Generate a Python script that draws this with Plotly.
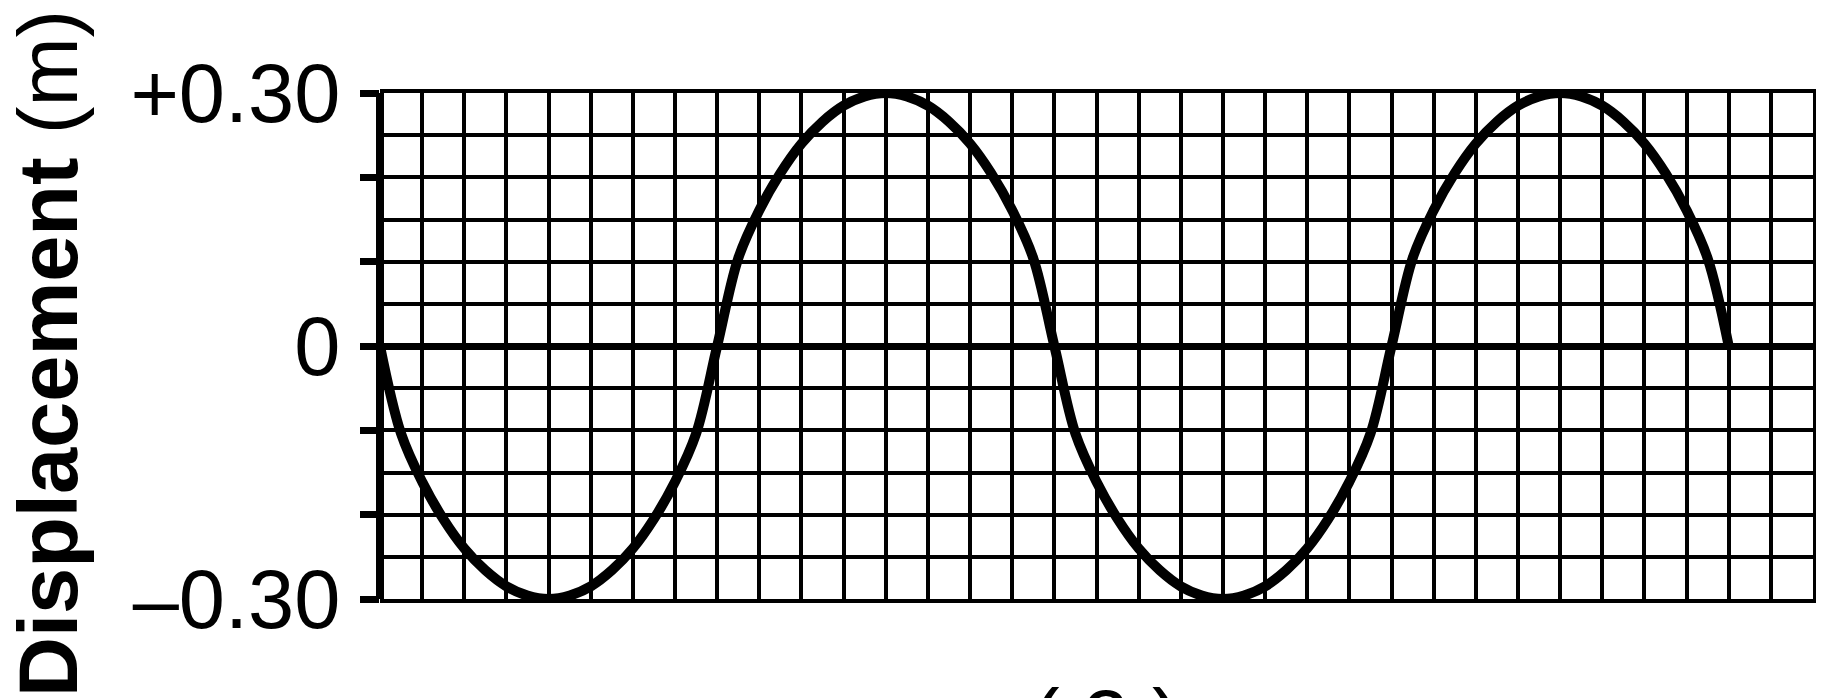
import plotly.graph_objects as go

# Horizontal position in grid columns (the axis is unlabelled in the original)
positions = [
    0, 0.5, 1, 1.5, 2, 2.5, 3, 3.5, 4, 4.5, 5, 5.5, 6, 6.5, 7, 7.5,
    8, 8.5, 9, 9.5, 10, 10.5, 11, 11.5, 12, 12.5, 13, 13.5, 14, 14.5, 15, 15.5,
    16, 16.5, 17, 17.5, 18, 18.5, 19, 19.5, 20, 20.5, 21, 21.5, 22, 22.5, 23, 23.5,
    24, 24.5, 25, 25.5, 26, 26.5, 27, 27.5, 28, 28.5, 29, 29.5, 30, 30.5, 31, 31.5,
    32,
]
# Displacement (m) at each half column
displacement = [
    0.000, -0.104, -0.161, -0.205, -0.240, -0.266, -0.285, -0.296,
    -0.300, -0.296, -0.285, -0.266, -0.240, -0.205, -0.161, -0.104,
    0.000, 0.104, 0.161, 0.205, 0.240, 0.266, 0.285, 0.296,
    0.300, 0.296, 0.285, 0.266, 0.240, 0.205, 0.161, 0.104,
    0.000, -0.104, -0.161, -0.205, -0.240, -0.266, -0.285, -0.296,
    -0.300, -0.296, -0.285, -0.266, -0.240, -0.205, -0.161, -0.104,
    0.000, 0.104, 0.161, 0.205, 0.240, 0.266, 0.285, 0.296,
    0.300, 0.296, 0.285, 0.266, 0.240, 0.205, 0.161, 0.104,
    0.000,
]
y_tickvals = [-0.30, -0.20, -0.10, 0.0, 0.10, 0.20, 0.30]
y_ticktext = ["\u20130.30", "", "", "0", "", "", "+0.30"]
y_title_bold = "Displacement"
y_title_unit = "(m)"
caption = "( 2 )"

FONT = "Liberation Sans, Arial, Helvetica, sans-serif"
W, H = 1824, 698
L, R, T, B = 372, 19, 85, 107
pw = W - L - R
ph = H - T - B

fig = go.Figure()
fig.add_trace(go.Scatter(
    x=positions, y=displacement, mode="lines",
    line=dict(color="black", width=10, shape="spline", smoothing=1.0),
    showlegend=False, hoverinfo="skip", cliponaxis=False,
))
# empty trace so the right-hand border axis is drawn
fig.add_trace(go.Scatter(x=[], y=[], yaxis="y2", showlegend=False))

fig.update_layout(
    template="none",
    width=W, height=H,
    margin=dict(l=L, r=R, t=T, b=B, pad=0, autoexpand=False),
    paper_bgcolor="white", plot_bgcolor="white",
    font=dict(family=FONT, color="black"),
    xaxis=dict(
        automargin=False,
        range=[0, 34], dtick=1, tick0=0,
        showgrid=True, gridcolor="black", gridwidth=4,
        zeroline=True, zerolinecolor="black", zerolinewidth=8,
        showline=True, linecolor="black", linewidth=4, mirror=True,
        showticklabels=False, ticks="",
    ),
    yaxis=dict(
        automargin=False,
        range=[-0.30, 0.30],
        tickmode="array", tickvals=y_tickvals, ticktext=y_ticktext,
        ticks="outside", ticklen=19, tickwidth=7, tickcolor="black",
        tickfont=dict(family=FONT, size=83, color="black"),
        ticklabelstandoff=3,
        showgrid=True, gridcolor="black", gridwidth=4,
        minor=dict(dtick=0.05, tick0=0, showgrid=True, gridcolor="black",
                   gridwidth=4, ticks=""),
        zeroline=True, zerolinecolor="black", zerolinewidth=7,
        showline=False,
    ),
    yaxis2=dict(
        automargin=False,
        overlaying="y", side="right", range=[-0.30, 0.30],
        showline=True, linecolor="black", linewidth=4,
        showgrid=False, zeroline=False, showticklabels=False, ticks="",
    ),
    annotations=[
        dict(
            text="<b>" + y_title_bold + "</b> " + y_title_unit,
            xref="paper", yref="paper",
            x=(40 - L) / pw, y=(H - B - 346) / ph,
            xanchor="center", yanchor="middle",
            textangle=-90, showarrow=False,
            font=dict(family=FONT, size=83, color="black"),
        ),
        dict(
            text=caption,
            xref="paper", yref="paper",
            x=(1098 - L) / pw, y=(H - B - 711) / ph,
            xanchor="center", yanchor="middle",
            showarrow=False,
            font=dict(family=FONT, size=83, color="black"),
        ),
    ],
)

fig.write_html("out.html")
